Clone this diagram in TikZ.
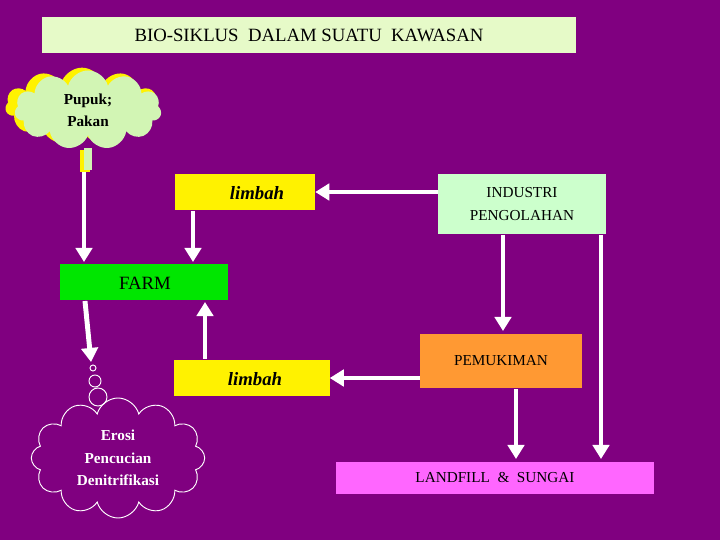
\documentclass[tikz,border=0pt]{standalone}
\usepackage{fontspec}
\setmainfont{Liberation Serif}
\usetikzlibrary{arrows.meta,shapes.symbols}
\definecolor{bgpurple}{RGB}{128,0,128}
\definecolor{titlegreen}{RGB}{230,250,200}
\definecolor{palegreen}{RGB}{204,255,204}
\definecolor{farmgreen}{RGB}{0,230,0}
\definecolor{orangebox}{RGB}{255,153,51}
\definecolor{pinkbox}{RGB}{255,102,255}
\definecolor{cloudfill}{RGB}{210,245,180}
\begin{document}
\begin{tikzpicture}[x=0.03cm,y=-0.03cm,
  box/.style={draw=none,rectangle,inner sep=0pt,align=center,font=\fontsize{13}{19}\selectfont},
  flow/.style={white,line width=4.2pt,-{Triangle[width=14pt,length=12pt]}}]
\fill[bgpurple] (0,0) rectangle (720,540);
\useasboundingbox (0,0) rectangle (720,540);
% boxes
\node[box,fill=titlegreen,minimum width=16cm,minimum height=1.08cm,font=\fontsize{16}{19}\selectfont] (title) at (309,35) {BIO-SIKLUS\ \ DALAM SUATU\ \ KAWASAN};
\node[box,fill=yellow,minimum width=4.2cm,minimum height=1.08cm] (limbahA) at (245,192) {};
\node[font=\fontsize{16}{19}\selectfont\bfseries\itshape] at (257,193) {limbah};
\node[box,fill=palegreen,minimum width=5.04cm,minimum height=1.8cm] (industri) at (522,204) {INDUSTRI\\PENGOLAHAN};
\node[box,fill=farmgreen,minimum width=5.04cm,minimum height=1.08cm] (farm) at (144,282) {};
\node[font=\fontsize{16}{19}\selectfont] at (145,283) {FARM};
\node[box,fill=yellow,minimum width=4.65cm,minimum height=1.08cm] (limbahB) at (252,378) {};
\node[font=\fontsize{16}{19}\selectfont\bfseries\itshape] at (255,379) {limbah};
\node[box,fill=orangebox,minimum width=4.86cm,minimum height=1.59cm] (pemukiman) at (501,361) {PEMUKIMAN};
\node[box,fill=pinkbox,minimum width=9.54cm,minimum height=0.96cm] (landfill) at (495,478) {LANDFILL\ \ \&\ \ SUNGAI};
% clouds
\node[cloud,cloud puffs=11,aspect=1.9,fill=yellow,minimum width=4.6cm,minimum height=2.3cm] at (82,106) {};
\node[cloud,cloud puffs=11,aspect=1.9,fill=cloudfill,minimum width=4.4cm,minimum height=2.2cm,align=center,font=\fontsize{13}{19}\selectfont\bfseries] (pupuk) at (88,110) {Pupuk;\\Pakan};
\fill[yellow] (80,150) rectangle (90,172);
\fill[cloudfill] (84,148) rectangle (92,170);
\node[cloud,cloud puffs=12,aspect=1.4,draw=white,thick,fill=bgpurple,minimum width=5.2cm,minimum height=3.6cm,align=center,text=white,font=\fontsize{13}{19}\selectfont\bfseries] (erosi) at (118,458) {Erosi\\Pencucian\\Denitrifikasi};
\draw[white,thick] (93,368) circle (3) (95,381) circle (6) (98,397) circle (9);
% connectors
\coordinate (pupukend) at (84,172);
\draw[flow] (pupukend) -- (84,262);
\draw[flow] (193,211) -- (193,262);
\draw[flow] (industri.west |- limbahA) -- (limbahA.east);
\draw[flow] (205,359) -- (205,302);
\draw[flow] (85,301) -- (91,362);
\draw[flow] (pemukiman.west |- limbahB) -- (limbahB.east);
\draw[flow] (503,235) -- (503,331);
\draw[flow] (601,235) -- (601,459);
\draw[flow] (516,389) -- (516,459);
\end{tikzpicture}
\end{document}
